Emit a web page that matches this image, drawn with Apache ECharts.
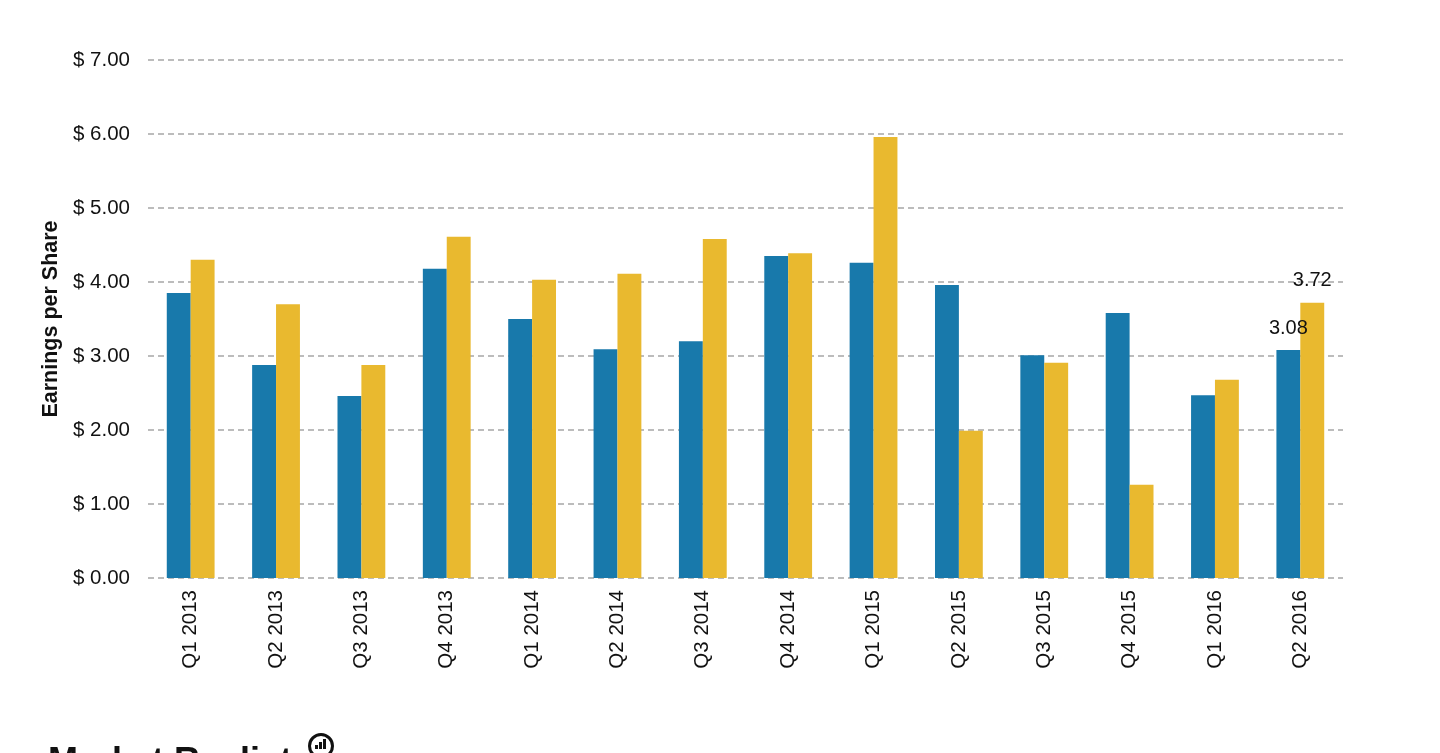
<!DOCTYPE html>
<html><head><meta charset="utf-8">
<script src="https://cdn.jsdelivr.net/npm/echarts@6/dist/echarts.min.js"></script>
<style>html,body{margin:0;padding:0;background:#fff;}#c{width:1440px;height:753px;}</style>
</head><body><div id="c"></div>
<script>
const categories = ['Q1 2013','Q2 2013','Q3 2013','Q4 2013','Q1 2014','Q2 2014','Q3 2014','Q4 2014','Q1 2015','Q2 2015','Q3 2015','Q4 2015','Q1 2016','Q2 2016'];
const seriesA = [3.85,2.88,2.46,4.18,3.50,3.09,3.20,4.35,4.26,3.96,3.01,3.58,2.47,3.08];
const seriesB = [4.30,3.70,2.88,4.61,4.03,4.11,4.58,4.39,5.96,1.99,2.91,1.26,2.68,3.72];
const yTicks = [0,1,2,3,4,5,6,7];
const lastIdx = categories.length - 1;

const chart = echarts.init(document.getElementById('c'));
const font = 'Liberation Sans, Arial, sans-serif';
function mk(data, color){
  return {
    type:'bar', data: data.map((v,i)=>({value:v, label:{show:i===lastIdx}})),
    itemStyle:{color:color}, barGap:'0%', barCategoryGap:'44%',
    label:{position:'top', color:'#111', fontSize:20, fontFamily:font, distance:12},
    animation:false
  };
}
chart.setOption({
  animation:false,
  grid:{left:148, right:97, top:60, bottom:175, containLabel:false},
  xAxis:{type:'category', data:categories,
    axisLine:{show:false}, axisTick:{show:false},
    axisLabel:{rotate:90, fontSize:20.5, color:'#111', fontFamily:font, margin:12}},
  yAxis:{type:'value', min:yTicks[0], max:yTicks[yTicks.length-1], interval:1,
    name:'Earnings per Share', nameLocation:'middle', nameGap:86,
    nameTextStyle:{fontSize:21.5, fontWeight:'bold', color:'#111', fontFamily:font},
    axisLabel:{formatter:v=>'$ '+v.toFixed(2), fontSize:20.5, color:'#111', fontFamily:font, margin:18},
    splitLine:{lineStyle:{type:[6,4], color:'#a6a6a6', width:1.6}}},
  series:[mk(seriesA,'#1879AB'), mk(seriesB,'#E9B92F')],
  graphic:[
    {type:'text', left:48, top:745, style:{text:'Market Realist', fontSize:36, fontWeight:'bold', fill:'#111', fontFamily:font}},
    {type:'circle', shape:{cx:321, cy:746, r:11.5}, style:{fill:'#fff', stroke:'#111', lineWidth:3}},
    {type:'rect', shape:{x:315, y:745, width:3, height:4}, style:{fill:'#111'}},
    {type:'rect', shape:{x:319, y:742, width:3, height:7}, style:{fill:'#111'}},
    {type:'rect', shape:{x:323, y:739, width:3, height:10}, style:{fill:'#111'}}
  ]
});
</script></body></html>
